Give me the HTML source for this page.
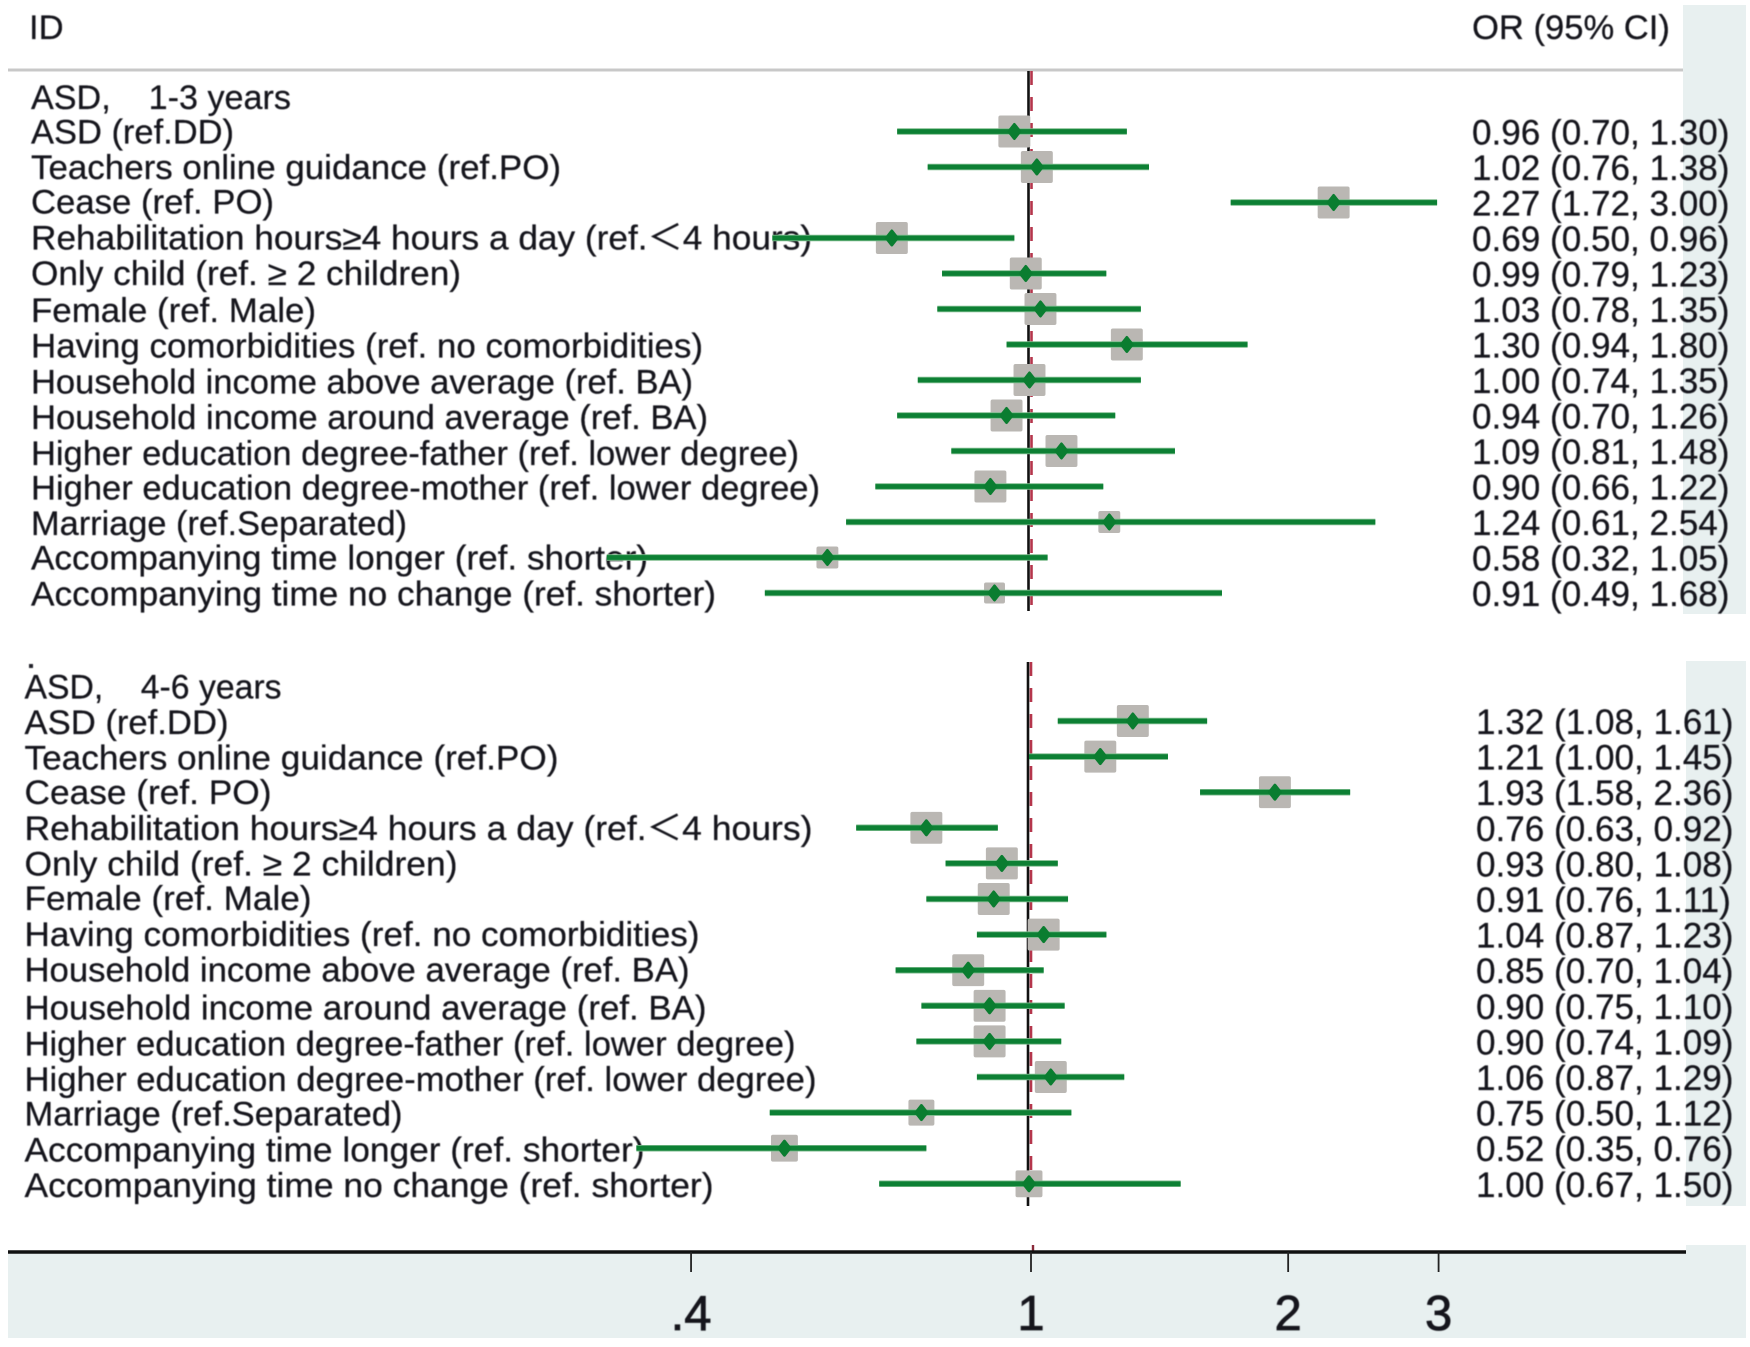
<!DOCTYPE html>
<html lang="en">
<head>
<meta charset="utf-8">
<title>Forest plot of OR (95% CI) for ASD by age group</title>
<style>
html,body{margin:0;padding:0;background:#fff;width:1750px;height:1347px;overflow:hidden}
svg{display:block}
text{font-family:"Liberation Sans","Noto Sans CJK SC",sans-serif;fill:#15151c;stroke:#15151c;stroke-width:.25px}
.title-text{white-space:pre}
.soft{filter:blur(0.55px)}
</style>
</head>
<body>
<svg id="chart" xmlns="http://www.w3.org/2000/svg" width="1750" height="1347" viewBox="0 0 1750 1347">
  <rect x="1683" y="5" width="63" height="609" fill="#e8f0f0"/>
  <rect x="1686" y="661" width="60" height="545" fill="#e8f0f0"/>
  <rect x="8" y="1252" width="1738" height="86" fill="#e8f0f0"/>
  <rect x="1686" y="1245" width="60" height="10" fill="#e8f0f0"/>
  <line x1="8" x2="1683" y1="70" y2="70" stroke="#c8c8c8" stroke-width="3"/>
  <g class="soft">
    <text x="29" y="39" font-size="34.6">ID</text>
    <text x="1472" y="39" font-size="34.6">OR (95% CI)</text>
  </g>
  <g class="soft" font-size="34.6">
    <text class="title-text" x="31" y="108.8" textLength="260" lengthAdjust="spacingAndGlyphs">ASD,    1-3 years</text>
    <text x="31" y="143.4" textLength="203" lengthAdjust="spacingAndGlyphs">ASD (ref.DD)</text>
    <text x="31" y="179" textLength="530" lengthAdjust="spacingAndGlyphs">Teachers online guidance (ref.PO)</text>
    <text x="31" y="213.7" textLength="243" lengthAdjust="spacingAndGlyphs">Cease (ref. PO)</text>
    <text x="31" y="249.4" textLength="781" lengthAdjust="spacingAndGlyphs">Rehabilitation hours≥4 hours a day (ref.＜4 hours)</text>
    <text x="31" y="285" textLength="430" lengthAdjust="spacingAndGlyphs">Only child (ref. ≥ 2 children)</text>
    <text x="31" y="321.9" textLength="285" lengthAdjust="spacingAndGlyphs">Female (ref. Male)</text>
    <text x="31" y="357.6" textLength="672" lengthAdjust="spacingAndGlyphs">Having comorbidities (ref. no comorbidities)</text>
    <text x="31" y="393.3" textLength="662" lengthAdjust="spacingAndGlyphs">Household income above average (ref. BA)</text>
    <text x="31" y="429" textLength="677" lengthAdjust="spacingAndGlyphs">Household income around average (ref. BA)</text>
    <text x="31" y="464.8" textLength="768" lengthAdjust="spacingAndGlyphs">Higher education degree-father (ref. lower degree)</text>
    <text x="31" y="499.4" textLength="789" lengthAdjust="spacingAndGlyphs">Higher education degree-mother (ref. lower degree)</text>
    <text x="31" y="535" textLength="376" lengthAdjust="spacingAndGlyphs">Marriage (ref.Separated)</text>
    <text x="31" y="569.7" textLength="617" lengthAdjust="spacingAndGlyphs">Accompanying time longer (ref. shorter)</text>
    <text x="31" y="605.4" textLength="685" lengthAdjust="spacingAndGlyphs">Accompanying time no change (ref. shorter)</text>
  </g>
  <g class="soft" font-size="34.6">
    <rect x="29" y="664" width="4" height="4" fill="#23232b"/>
    <text class="title-text" x="24.5" y="698.3" textLength="257" lengthAdjust="spacingAndGlyphs">ASD,    4-6 years</text>
    <text x="24.5" y="733.9" textLength="204" lengthAdjust="spacingAndGlyphs">ASD (ref.DD)</text>
    <text x="24.5" y="769.6" textLength="534" lengthAdjust="spacingAndGlyphs">Teachers online guidance (ref.PO)</text>
    <text x="24.5" y="804.2" textLength="247" lengthAdjust="spacingAndGlyphs">Cease (ref. PO)</text>
    <text x="24.5" y="839.9" textLength="788" lengthAdjust="spacingAndGlyphs">Rehabilitation hours≥4 hours a day (ref.＜4 hours)</text>
    <text x="24.5" y="875.6" textLength="433" lengthAdjust="spacingAndGlyphs">Only child (ref. ≥ 2 children)</text>
    <text x="24.5" y="910.2" textLength="287" lengthAdjust="spacingAndGlyphs">Female (ref. Male)</text>
    <text x="24.5" y="945.9" textLength="675" lengthAdjust="spacingAndGlyphs">Having comorbidities (ref. no comorbidities)</text>
    <text x="24.5" y="981.6" textLength="665" lengthAdjust="spacingAndGlyphs">Household income above average (ref. BA)</text>
    <text x="24.5" y="1019.6" textLength="682" lengthAdjust="spacingAndGlyphs">Household income around average (ref. BA)</text>
    <text x="24.5" y="1055.3" textLength="771" lengthAdjust="spacingAndGlyphs">Higher education degree-father (ref. lower degree)</text>
    <text x="24.5" y="1091" textLength="792" lengthAdjust="spacingAndGlyphs">Higher education degree-mother (ref. lower degree)</text>
    <text x="24.5" y="1125.6" textLength="378" lengthAdjust="spacingAndGlyphs">Marriage (ref.Separated)</text>
    <text x="24.5" y="1161.3" textLength="620" lengthAdjust="spacingAndGlyphs">Accompanying time longer (ref. shorter)</text>
    <text x="24.5" y="1197" textLength="689" lengthAdjust="spacingAndGlyphs">Accompanying time no change (ref. shorter)</text>
  </g>
  <g id="panels"></g>
  <line x1="1033" x2="1033" y1="1245" y2="1252" stroke="#8a2a3a" stroke-width="2.4"/>
  <g id="axis"></g>
</svg>
<script>
const youngOr = [0.96,1.02,2.27,0.69,0.99,1.03,1.30,1.00,0.94,1.09,0.90,1.24,0.58,0.91];
const youngLow = [0.70,0.76,1.72,0.50,0.79,0.78,0.94,0.74,0.70,0.81,0.66,0.61,0.32,0.49];
const youngHigh = [1.30,1.38,3.00,0.96,1.23,1.35,1.80,1.35,1.26,1.48,1.22,2.54,1.05,1.68];
const youngWeight = [10,10,10,10,10,10,10,10,10,10,10,4.7,4.7,4.3];
const olderOr = [1.32,1.21,1.93,0.76,0.93,0.91,1.04,0.85,0.90,0.90,1.06,0.75,0.52,1.00];
const olderLow = [1.08,1.00,1.58,0.63,0.80,0.76,0.87,0.70,0.75,0.74,0.87,0.50,0.35,0.67];
const olderHigh = [1.61,1.45,2.36,0.92,1.08,1.11,1.23,1.04,1.10,1.09,1.29,1.12,0.76,1.50];
const olderWeight = [10,10,10,10,10,10,10,10,10,10,10,6.6,7.1,7.1];
const axisTickValues = [0.4,1,2,3];
const axisTickLabels = [".4","1","2","3"];

const NS = "http://www.w3.org/2000/svg";
const panelsRoot = document.getElementById("panels");
const axisRoot = document.getElementById("axis");

function xScale(value, originX, pxPerLog) { return originX + Math.log(value) * pxPerLog; }
function boxSize(weight) { return Math.sqrt(weight) * 10.1; }
function make(tag, parent, props) {
  const el = document.createElementNS(NS, tag);
  for (const key in props) el.setAttribute(key, props[key]);
  parent.appendChild(el);
  return el;
}

function drawPanel(cfg) {
  const yRow = i => cfg.firstY + i * cfg.stepY;
  const xOf = v => xScale(v, cfg.originX, cfg.pxPerLog);

  const group = make("g", panelsRoot, {});
  
  

  const textLayer = make("g", group, {class: "soft"});
  
  

  cfg.or.forEach((value, i) => {
    const v = make("text", textLayer, {x: cfg.valueX, y: yRow(i) + 13, "font-size": 35.1});
    
    
    v.textContent = value.toFixed(2) + " (" + cfg.low[i].toFixed(2) + ", " + cfg.high[i].toFixed(2) + ")";
  });

  const refBlack = make("line", group, {x1: xOf(1) + cfg.refShift - 3, x2: xOf(1) + cfg.refShift - 3, y1: cfg.refTop, y2: cfg.refBottom, stroke: "#111", "stroke-width": 2.6});
  
  
  const refRed = make("line", group, {x1: xOf(1) + cfg.refShift, x2: xOf(1) + cfg.refShift, y1: cfg.refTop, y2: cfg.refBottom, stroke: "#b5364c", "stroke-width": 2.6, "stroke-dasharray": "14 12"});
  
  

  cfg.or.forEach((value, i) => {
    const y = yRow(i);
    const cx = xOf(value);
    const size = boxSize(cfg.weight[i]);
    const box = make("rect", group, {x: cx - size / 2, y: y - size / 2, width: size, height: size, fill: "#bab7b3", rx: 2});
    
    

    const x1 = xOf(cfg.low[i]);
    const x2 = xOf(cfg.high[i]);
    const halo = make("line", group, {x1: x1, x2: x2, y1: y, y2: y, stroke: "#7dbb8c", "stroke-width": 6.5});
    
    
    const ci = make("line", group, {x1: x1, x2: x2, y1: y, y2: y, stroke: "#0d8034", "stroke-width": 4.8});
    
    

    const point = make("polygon", group, {points: (cx - 5.5) + "," + y + " " + cx + "," + (y - 7) + " " + (cx + 5.5) + "," + y + " " + cx + "," + (y + 7), fill: "#0a7d30", stroke: "#0a7d30", "stroke-width": 3, "stroke-linejoin": "round"});
    
    
  });
}

drawPanel({name: "panel-1-3-years", or: youngOr, low: youngLow, high: youngHigh, weight: youngWeight,
  originX: 1029.5, pxPerLog: 371, refShift: 2, firstY: 131.5, stepY: 35.5, valueX: 1472, refTop: 71, refBottom: 611});
drawPanel({name: "panel-4-6-years", or: olderOr, low: olderLow, high: olderHigh, weight: olderWeight,
  originX: 1029, pxPerLog: 374, refShift: 2, firstY: 721, stepY: 35.6, valueX: 1476, refTop: 662, refBottom: 1206});

const axisLine = make("line", axisRoot, {x1: 8, x2: 1686, y1: 1252, y2: 1252, stroke: "#111", "stroke-width": 3.5});


axisTickValues.forEach((value, i) => {
  const x = xScale(value, 1031, 371);
  const tick = make("line", axisRoot, {x1: x, x2: x, y1: 1252, y2: 1272, stroke: "#222", "stroke-width": 1.8});
  
  
  const label = make("text", axisRoot, {x: x, y: 1330, "font-size": 49, "text-anchor": "middle", class: "soft", style: "stroke-width:.8px"});
  
  
  label.textContent = axisTickLabels[i];
});
</script>
</body>
</html>
